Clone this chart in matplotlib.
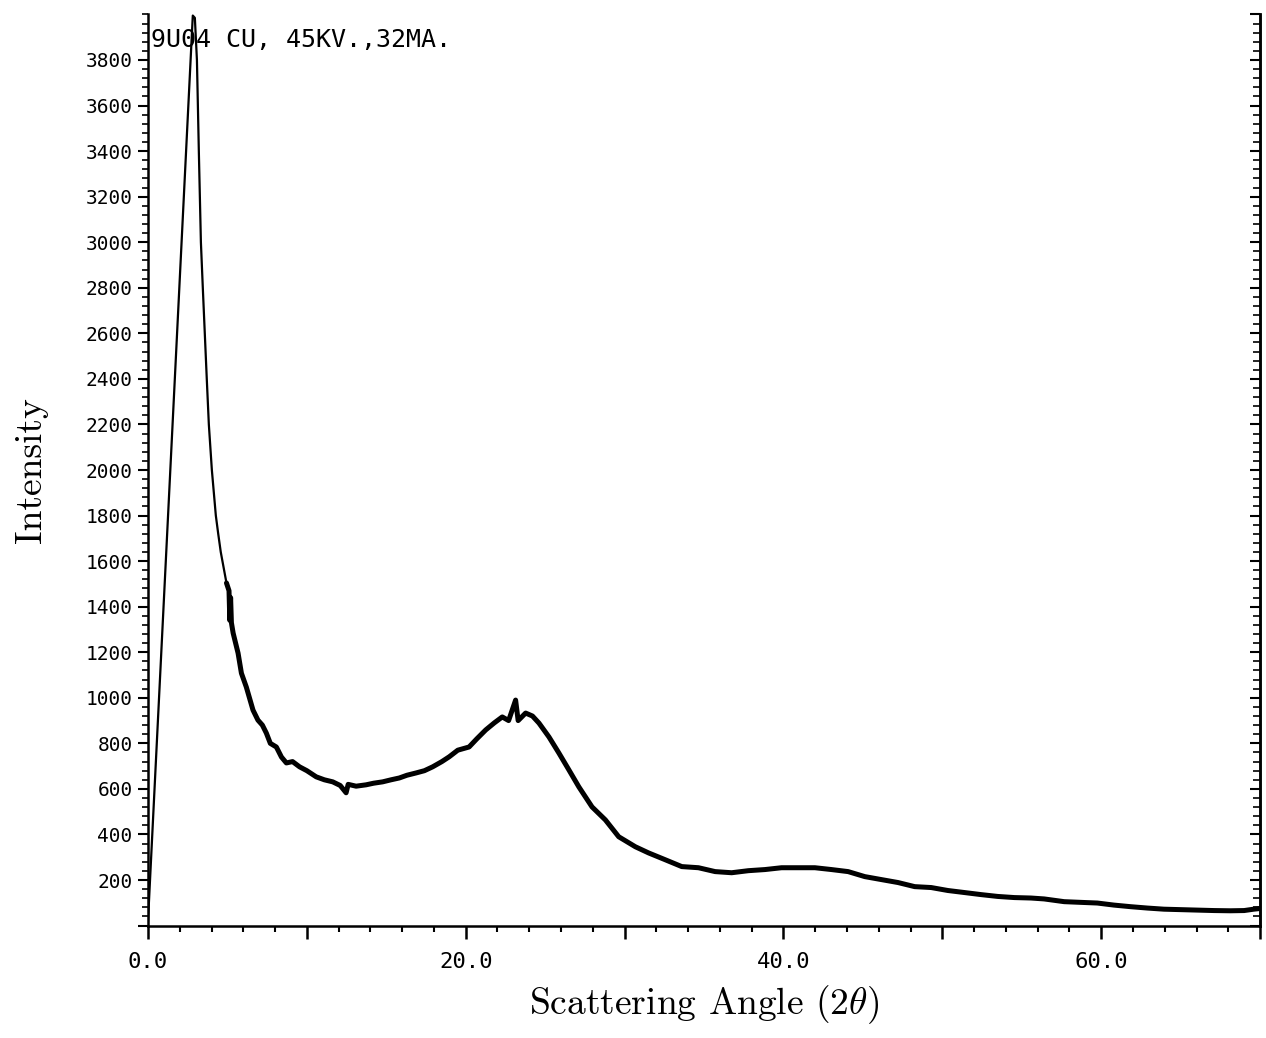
import matplotlib
matplotlib.use("Agg")
import matplotlib.pyplot as plt
from matplotlib.ticker import MultipleLocator

plt.rcParams['mathtext.fontset'] = 'cm'

# values
two_theta = [0.0, 2.82, 2.95, 3.08, 3.20, 3.33, 3.45, 3.70, 3.83, 4.02, 4.27, 4.42,
             4.58, 4.94, 5.10, 5.15, 5.20, 5.25, 5.36, 5.67, 5.88, 6.19, 6.61, 6.92,
             7.20, 7.45, 7.70, 8.08, 8.40, 8.71, 9.10, 9.54, 10.0, 10.59, 11.1, 11.63,
             12.1, 12.47, 12.6, 13.1, 13.73, 14.2, 14.77, 15.3, 15.82, 16.3, 16.87,
             17.4, 17.92, 18.5, 18.96, 19.5, 20.21, 20.7, 21.26, 21.8, 22.30, 22.7,
             23.14, 23.3, 23.77, 24.2, 24.61, 25.24, 25.86, 26.49, 27.12, 27.95,
             28.79, 29.63, 30.68, 31.51, 32.56, 33.60, 34.65, 35.70, 36.74, 37.79,
             38.84, 39.88, 40.93, 41.98, 43.02, 44.07, 45.12, 46.16, 47.21, 48.26,
             49.30, 50.35, 51.40, 52.44, 53.48, 54.53, 55.58, 56.41, 57.67, 58.7,
             59.76, 60.8, 61.85, 62.9, 63.95, 65.0, 66.04, 67.1, 68.13, 69.0, 69.6, 70.0]
intensity = [20, 3995, 3985, 3800, 3400, 3000, 2800, 2400, 2200, 2000, 1800, 1720,
             1640, 1504, 1470, 1340, 1440, 1330, 1284, 1196, 1108, 1047, 946, 902,
             880, 845, 800, 784, 740, 714, 720, 697, 680, 653, 640, 631,
             615, 583, 620, 612, 618, 625, 631, 640, 648, 660, 670,
             680, 697, 720, 741, 770, 784, 820, 859, 890, 916, 900,
             990, 900, 933, 920, 889, 828, 758, 684, 609, 521,
             464, 390, 346, 319, 289, 259, 254, 237, 232, 241,
             246, 254, 254, 254, 246, 237, 215, 202, 189, 171,
             167, 154, 145, 136, 128, 123, 121, 117, 105, 102,
             99, 90, 83, 77, 72, 70, 68, 66, 65, 66, 72, 75]

x_ticks = [0, 10, 20, 30, 40, 50, 60, 70]
x_labels = ['0.0', '', '20.0', '', '40.0', '', '60.0', '']
y_ticks = list(range(0, 4000, 200))
y_labels = [''] + [str(v) for v in y_ticks[1:]]

fig = plt.figure(figsize=(12.66, 10.38), dpi=100)
ax = fig.add_axes([0.1169, 0.1083, 0.8784, 0.8778])

ax.plot(two_theta, intensity, color='black', lw=1.6)
# the noisy part of the scan prints as a thicker band
noisy = 13
ax.plot(two_theta[noisy:], intensity[noisy:], color='black', lw=3.6,
        solid_joinstyle='round', solid_capstyle='round')
ax.set_xlim(0, 70)
ax.set_ylim(0, 4000)

ax.spines['top'].set_visible(False)
for s in ['left', 'bottom', 'right']:
    ax.spines[s].set_linewidth(1.8)

ax.set_xticks(x_ticks)
ax.set_xticklabels(x_labels, fontfamily='DejaVu Sans Mono', fontsize=16)
ax.xaxis.set_minor_locator(MultipleLocator(2))
ax.set_yticks(y_ticks)
ax.set_yticklabels(y_labels, fontfamily='DejaVu Sans Mono', fontsize=14)
ax.yaxis.set_minor_locator(MultipleLocator(40))
ax.tick_params(axis='x', which='major', direction='out', length=9, width=1.8, pad=10)
ax.tick_params(axis='x', which='minor', direction='out', length=4, width=1.5)
ax.tick_params(axis='y', which='major', direction='out', length=7, width=1.5, pad=4)
ax.tick_params(axis='y', which='minor', direction='out', length=4, width=1.2)

# right hand axis only carries inward ticks
ax2 = ax.twinx()
ax2.set_ylim(0, 4000)
ax2.spines['top'].set_visible(False)
ax2.spines['left'].set_visible(False)
ax2.spines['bottom'].set_visible(False)
ax2.spines['right'].set_linewidth(1.8)
ax2.yaxis.set_major_locator(MultipleLocator(200))
ax2.yaxis.set_minor_locator(MultipleLocator(40))
ax2.tick_params(axis='y', which='both', direction='in', labelright=False)
ax2.tick_params(axis='y', which='major', length=7, width=1.5)
ax2.tick_params(axis='y', which='minor', length=5, width=1.2)

ax.text(0.003, 0.985, '9U04 CU, 45KV.,32MA.', transform=ax.transAxes,
        fontfamily='DejaVu Sans Mono', fontsize=18, va='top', ha='left')

ax.set_xlabel(r'Scattering Angle $(2\theta)$', fontfamily='cmr10', fontsize=27, labelpad=8)
ax.set_ylabel('Intensity', fontfamily='cmr10', fontsize=27, labelpad=27)

fig.savefig('out.png', dpi=100)
